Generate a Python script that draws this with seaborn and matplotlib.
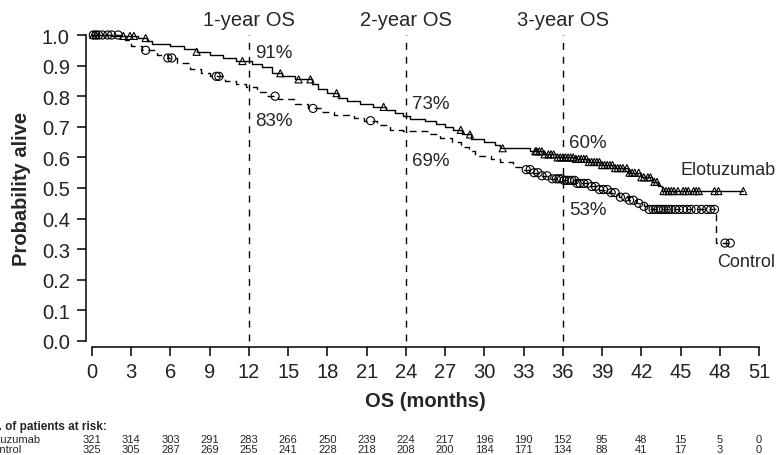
import numpy as np
import pandas as pd
import matplotlib
matplotlib.use("Agg")
import matplotlib.pyplot as plt
import matplotlib.transforms as mtransforms
import seaborn as sns

# Kaplan-Meier step values (month, survival after step)
elo_times = [0, 1.5, 3.5, 4.2, 4.6, 6.0, 7.0, 8.0, 9.0, 10.0, 11.0, 12.2, 13.0, 13.8,
             14.5, 15.5, 16.8, 17.3, 18.0, 18.8, 19.5, 20.5, 21.5, 22.5, 23.2, 23.8,
             24.3, 25.5, 26.3, 27.0, 27.6, 28.3, 29.0, 30.0, 30.8, 31.2, 33.5, 34.5,
             35.5, 37.0, 38.0, 39.0, 40.0, 41.0, 42.0, 42.8, 43.3, 43.6, 49.8]
elo_surv = [1.0, 0.997, 0.99, 0.98, 0.97, 0.965, 0.955, 0.945, 0.935, 0.925, 0.915,
            0.905, 0.895, 0.875, 0.865, 0.855, 0.84, 0.825, 0.81, 0.795, 0.785, 0.775,
            0.765, 0.755, 0.745, 0.735, 0.725, 0.72, 0.71, 0.70, 0.69, 0.675, 0.66,
            0.65, 0.64, 0.63, 0.62, 0.61, 0.60, 0.595, 0.585, 0.575, 0.565, 0.55,
            0.535, 0.52, 0.505, 0.49, 0.49]

ctl_times = [0, 2.5, 3.0, 3.8, 5.0, 5.8, 6.5, 7.5, 8.3, 9.0, 10.2, 11.0, 11.8, 12.6,
             13.3, 14.2, 15.5, 16.5, 17.5, 18.5, 20.0, 20.8, 21.8, 22.8, 23.8, 25.8,
             26.6, 27.5, 28.2, 28.8, 29.3, 30.5, 31.2, 32.2, 33.0, 33.6, 34.3, 35.0,
             36.0, 37.0, 38.0, 38.8, 39.5, 40.3, 41.0, 41.6, 42.2, 42.6, 47.7, 48.8]
ctl_surv = [1.0, 0.985, 0.965, 0.95, 0.935, 0.925, 0.91, 0.89, 0.875, 0.865, 0.85,
            0.84, 0.83, 0.815, 0.80, 0.79, 0.775, 0.76, 0.75, 0.74, 0.73, 0.72, 0.705,
            0.69, 0.685, 0.675, 0.665, 0.65, 0.635, 0.62, 0.605, 0.595, 0.585, 0.57,
            0.56, 0.55, 0.54, 0.53, 0.525, 0.515, 0.505, 0.495, 0.485, 0.47, 0.46,
            0.45, 0.44, 0.43, 0.32, 0.32]

# censoring times (months)
elo_censor = [0.1, 0.3, 2.4, 2.9, 3.2, 4.1, 8.0, 11.5, 14.4, 15.8, 16.7, 18.7, 22.3,
              28.2, 28.9, 31.4, 33.9, 34.0, 34.2, 34.4, 34.6, 34.9, 35.1, 35.3, 35.6,
              35.8, 36.0, 36.2, 36.4, 36.6, 36.8, 37.0, 37.2, 37.4, 37.6, 37.8, 38.0,
              38.2, 38.4, 38.6, 38.8, 39.0, 39.2, 39.4, 39.6, 39.8, 40.0, 40.2, 40.4,
              40.6, 40.9, 41.1, 41.3, 41.5, 41.8, 42.0, 42.2, 42.5, 42.7, 43.0, 43.2,
              43.7, 43.9, 44.1, 44.3, 44.5, 44.8, 45.2, 45.4, 45.6, 46.0, 46.2, 46.4,
              47.6, 47.9, 49.8]
ctl_censor = [0.1, 0.3, 0.5, 0.8, 1.2, 1.5, 2.0, 4.1, 5.8, 6.1, 9.5, 9.7, 14.0, 16.9,
              21.3, 33.2, 33.5, 33.8, 34.1, 34.4, 34.8, 35.2, 35.5, 35.7, 35.9, 36.1,
              36.3, 36.5, 36.7, 36.9, 37.1, 37.3, 37.6, 37.9, 38.2, 38.5, 38.8, 39.1,
              39.4, 39.7, 40.0, 40.4, 40.8, 41.1, 41.4, 41.8, 42.2, 42.6, 42.9, 43.1,
              43.3, 43.5, 43.7, 43.9, 44.1, 44.3, 44.6, 44.9, 45.2, 45.5, 45.8, 46.2,
              46.6, 47.0, 47.3, 47.6, 48.4, 48.8]

milestones = [12, 24, 36]
milestone_labels = ["1-year OS", "2-year OS", "3-year OS"]
elo_pct = ["91%", "73%", "60%"]
ctl_pct = ["83%", "69%", "53%"]

risk_months = list(range(0, 52, 3))
elo_risk = [321, 314, 303, 291, 283, 266, 250, 239, 224, 217, 196, 190, 152, 95, 48, 15, 5, 0]
ctl_risk = [325, 305, 287, 269, 255, 241, 228, 218, 208, 200, 184, 171, 134, 88, 41, 17, 3, 0]


def surv_at(times, surv, t):
    idx = np.searchsorted(times, t, side="right") - 1
    return np.asarray(surv)[idx]


sns.set_style("ticks")
plt.rcParams["font.family"] = ["Liberation Sans", "DejaVu Sans"]

fig = plt.figure(figsize=(7.78, 4.56), dpi=100)
ax = fig.add_axes([92 / 778, 114 / 456, 667 / 778, 306 / 456])

curves = pd.DataFrame({
    "month": elo_times + ctl_times,
    "surv": elo_surv + ctl_surv,
    "arm": ["Elotuzumab"] * len(elo_times) + ["Control"] * len(ctl_times),
})
sns.lineplot(data=curves[curves.arm == "Elotuzumab"], x="month", y="surv",
             drawstyle="steps-post", color="black", lw=1.0, ax=ax, clip_on=False)
sns.lineplot(data=curves[curves.arm == "Control"], x="month", y="surv",
             drawstyle="steps-post", color="black", lw=1.0, ax=ax, clip_on=False,
             dashes=False, linestyle=(0, (5, 3.5)))

elo_marks = pd.DataFrame({"month": elo_censor,
                          "surv": surv_at(elo_times, elo_surv, elo_censor)})
ctl_marks = pd.DataFrame({"month": ctl_censor,
                          "surv": surv_at(ctl_times, ctl_surv, ctl_censor)})
sns.scatterplot(data=elo_marks, x="month", y="surv", marker="^", s=26,
                facecolors="none", edgecolors="black", linewidths=0.8,
                ax=ax, clip_on=False, zorder=3)
sns.scatterplot(data=ctl_marks, x="month", y="surv", marker="o", s=34,
                facecolors="none", edgecolors="black", linewidths=0.8,
                ax=ax, clip_on=False, zorder=3)

for m, lab in zip(milestones, milestone_labels):
    ax.vlines(m, 0, 1.0, colors="black", lw=1.0, linestyles=(0, (5, 5)),
              clip_on=False)
    ax.text(m, 1.052, lab, ha="center", va="center", fontsize=14.5)

elo_pct_y = [0.944, 0.775, 0.65]
ctl_pct_y = [0.722, 0.59, 0.43]
for m, p, yy in zip(milestones, elo_pct, elo_pct_y):
    ax.text(m + 0.45, yy, p, ha="left", va="center", fontsize=13.5)
for m, p, yy in zip(milestones, ctl_pct, ctl_pct_y):
    ax.text(m + 0.45, yy, p, ha="left", va="center", fontsize=13.5)

ax.text(45.0, 0.562, "Elotuzumab", ha="left", va="center", fontsize=13)
ax.text(47.8, 0.26, "Control", ha="left", va="center", fontsize=13)

ax.set_xlim(0, 51)
ax.set_ylim(0, 1.0)
ax.set_xticks(risk_months)
ax.set_yticks(np.arange(0, 1.01, 0.1))
ax.set_yticklabels([f"{v:.1f}" for v in np.arange(0, 1.01, 0.1)])
ax.tick_params(labelsize=14.5, length=6.5, width=1.1, color="black",
               labelcolor="#222222")
ax.tick_params(axis="y", pad=5)
ax.tick_params(axis="x", pad=4)
for sp in ax.spines.values():
    sp.set_linewidth(1.1)
    sp.set_color("black")
sns.despine(ax=ax, offset=4.5, trim=True)

ax.set_xlabel("OS (months)", fontsize=14.5, fontweight="bold", labelpad=7)
ax.set_ylabel("Probability alive", fontsize=14.5, fontweight="bold", labelpad=8)

# number at risk table
trans = mtransforms.blended_transform_factory(ax.transData, fig.transFigure)
fig.text(-17 / 778, 1 - 427 / 456, "No. of patients at risk:", ha="left", va="center",
         fontsize=8.5, fontweight="bold")
fig.text(-19 / 778, 1 - 440.5 / 456, "Elotuzumab", ha="left", va="center", fontsize=8)
fig.text(-15 / 778, 1 - 450.5 / 456, "Control", ha="left", va="center", fontsize=8)
for m, e, c in zip(risk_months, elo_risk, ctl_risk):
    ax.text(m, 1 - 440.5 / 456, str(e), transform=trans, ha="center", va="center",
            fontsize=8)
    ax.text(m, 1 - 450.5 / 456, str(c), transform=trans, ha="center", va="center",
            fontsize=8)

fig.savefig("out.png", dpi=100)
